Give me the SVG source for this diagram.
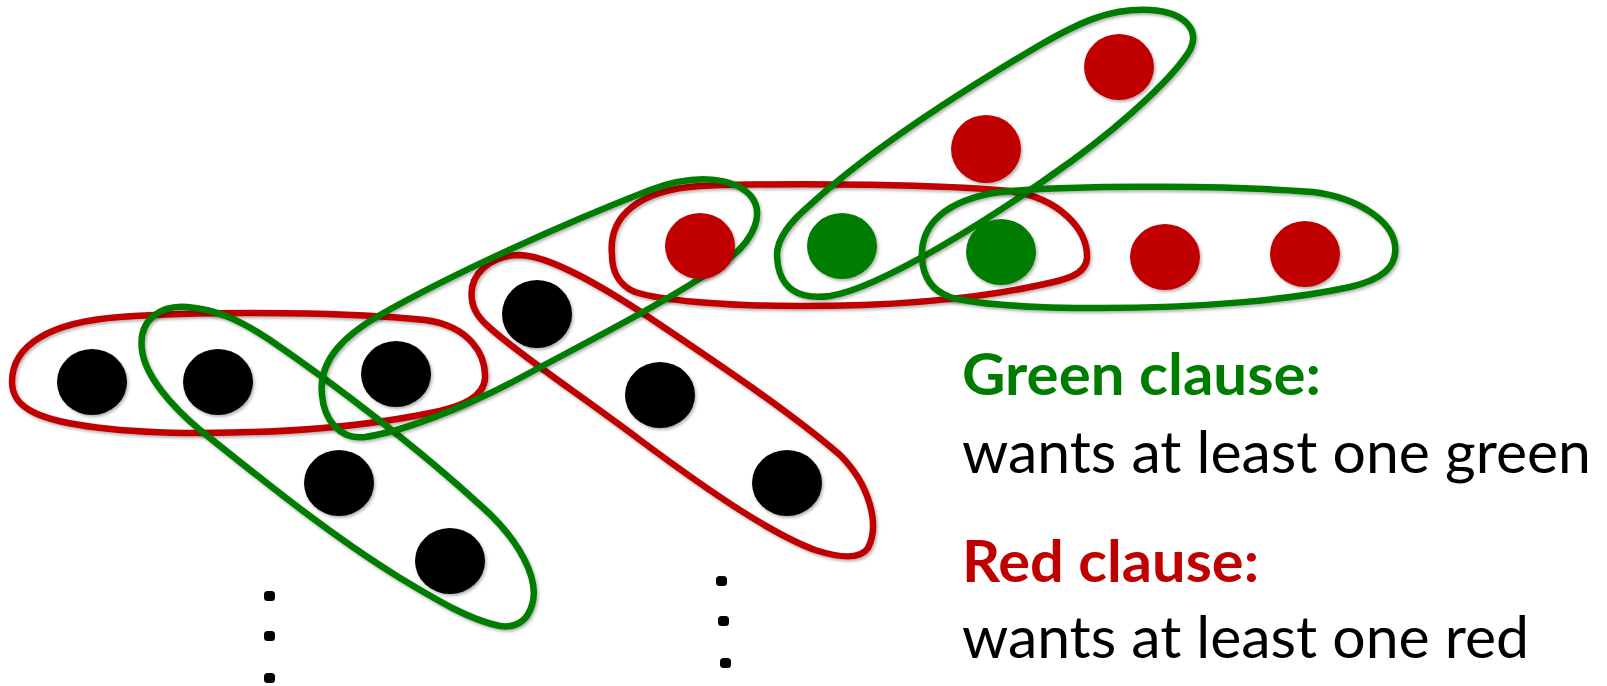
<svg xmlns="http://www.w3.org/2000/svg" width="1607" height="686" viewBox="0 0 1607 686">
<defs>
<filter id="sh" x="-20%" y="-20%" width="140%" height="140%">
<feDropShadow dx="1.5" dy="2" stdDeviation="1.5" flood-color="#000" flood-opacity="0.3"/>
</filter>
<style>
.rc{fill:none;stroke:#C00000;stroke-width:6.5;filter:url(#sh)}
.gc{fill:none;stroke:#007D00;stroke-width:6.5;filter:url(#sh)}
.bk{fill:#000;filter:url(#sh)}
.rd{fill:#C00000;filter:url(#sh)}
.gr{fill:#007D00;filter:url(#sh)}
.dt{fill:#000}
.hd{font-family:Lato,"Liberation Sans",sans-serif;font-weight:bold;font-size:58px}
.bd{font-family:Lato,"Liberation Sans",sans-serif;font-size:58px;fill:#000}
</style>
</defs>
<rect width="1607" height="686" fill="#fff"/>
<g id="connectors">
<path id="red1" class="rc" d="M 12,382 C 12,345 50,322 120,317 C 220,310 360,313 425,320 C 470,326 486,355 485,378 C 484,398 460,406 440,411 C 380,424 300,433 200,433 C 120,433 60,425 35,413 C 18,405 12,395 12,382 Z"/>
<path id="red2" class="rc" d="M 472,300 C 468,275 490,255 520,255 C 550,256 600,285 650,318 C 720,365 790,412 840,455 C 870,485 880,525 868,548 C 860,560 840,558 815,550 C 770,533 710,492 640,440 C 580,395 520,355 490,328 C 478,318 473,310 472,300 Z"/>
<path id="red3" class="rc" d="M 612,255 C 608,215 640,190 700,186 C 800,182 950,185 1010,191 C 1060,198 1088,230 1087,258 C 1086,275 1065,280 1040,285 C 980,298 900,306 800,306 C 720,306 660,300 635,292 C 618,285 612,270 612,255 Z"/>
<path id="green1" class="gc" d="M 142,350 C 138,320 160,305 187,307 C 215,309 240,320 270,340 C 340,388 420,450 480,505 C 520,540 540,580 532,605 C 527,622 515,628 500,626 C 470,620 440,602 400,578 C 330,535 260,478 200,430 C 170,405 145,375 142,350 Z"/>
<path id="green2" class="gc" d="M 322,395 C 318,360 345,335 380,315 C 450,275 560,225 650,190 C 690,175 730,175 750,195 C 765,212 755,238 730,258 C 680,295 600,335 520,378 C 460,410 400,432 365,437 C 340,440 324,420 322,395 Z"/>
<path id="green3" class="gc" d="M 777,255 C 778,290 800,300 830,296 C 880,288 990,220 1073,160 C 1130,118 1175,75 1190,50 C 1200,30 1185,12 1150,10 C 1110,8 1080,22 1040,45 C 960,92 870,150 810,205 C 790,222 777,238 777,255 Z"/>
<path id="green4" class="gc" d="M 922,258 C 920,225 945,200 1000,192 C 1080,184 1240,186 1313,192 C 1360,198 1392,222 1395,245 C 1398,268 1380,280 1350,287 C 1290,300 1200,308 1100,308 C 1020,308 970,303 950,297 C 930,290 923,275 922,258 Z"/>
</g>
<g id="n1"><ellipse class="bk" cx="92" cy="382" rx="35" ry="33"/></g>
<g id="n2"><ellipse class="bk" cx="218" cy="382" rx="35" ry="33"/></g>
<g id="n3"><ellipse class="bk" cx="396" cy="374" rx="35" ry="33"/></g>
<g id="n4"><ellipse class="bk" cx="339" cy="483" rx="35" ry="33"/></g>
<g id="n5"><ellipse class="bk" cx="450" cy="561" rx="35" ry="33"/></g>
<g id="n6"><ellipse class="bk" cx="537" cy="314" rx="35" ry="34"/></g>
<g id="n7"><ellipse class="bk" cx="660" cy="395" rx="35" ry="33"/></g>
<g id="n8"><ellipse class="bk" cx="787" cy="483" rx="35" ry="33"/></g>
<g id="n9"><ellipse class="rd" cx="700" cy="246" rx="35" ry="33"/></g>
<g id="n10"><ellipse class="gr" cx="842" cy="246" rx="35" ry="33"/></g>
<g id="n11"><ellipse class="gr" cx="1001" cy="252" rx="35" ry="33"/></g>
<g id="n12"><ellipse class="rd" cx="1165" cy="257" rx="35" ry="33"/></g>
<g id="n13"><ellipse class="rd" cx="1305" cy="254" rx="35" ry="33"/></g>
<g id="n14"><ellipse class="rd" cx="986" cy="149" rx="35" ry="34"/></g>
<g id="n15"><ellipse class="rd" cx="1119" cy="67" rx="35" ry="33"/></g>
<g id="dots1">
<rect class="dt" x="264" y="591" width="11" height="10" rx="3.5"/>
<rect class="dt" x="264" y="631" width="11" height="10" rx="3.5"/>
<rect class="dt" x="264" y="673" width="11" height="10" rx="3.5"/>
</g>
<g id="dots2">
<rect class="dt" x="716" y="576" width="11" height="10" rx="3.5"/>
<rect class="dt" x="718" y="616" width="11" height="10" rx="3.5"/>
<rect class="dt" x="720" y="658" width="11" height="10" rx="3.5"/>
</g>
<g id="legend">
<text class="hd" x="962" y="395" fill="#007D00" textLength="359" lengthAdjust="spacingAndGlyphs">Green clause:</text>
<text class="bd" x="962" y="473" textLength="629" lengthAdjust="spacingAndGlyphs">wants at least one green</text>
<text class="hd" x="962" y="582" fill="#C00000" textLength="297" lengthAdjust="spacingAndGlyphs">Red clause:</text>
<text class="bd" x="962" y="658" textLength="567" lengthAdjust="spacingAndGlyphs">wants at least one red</text>
</g>
</svg>
